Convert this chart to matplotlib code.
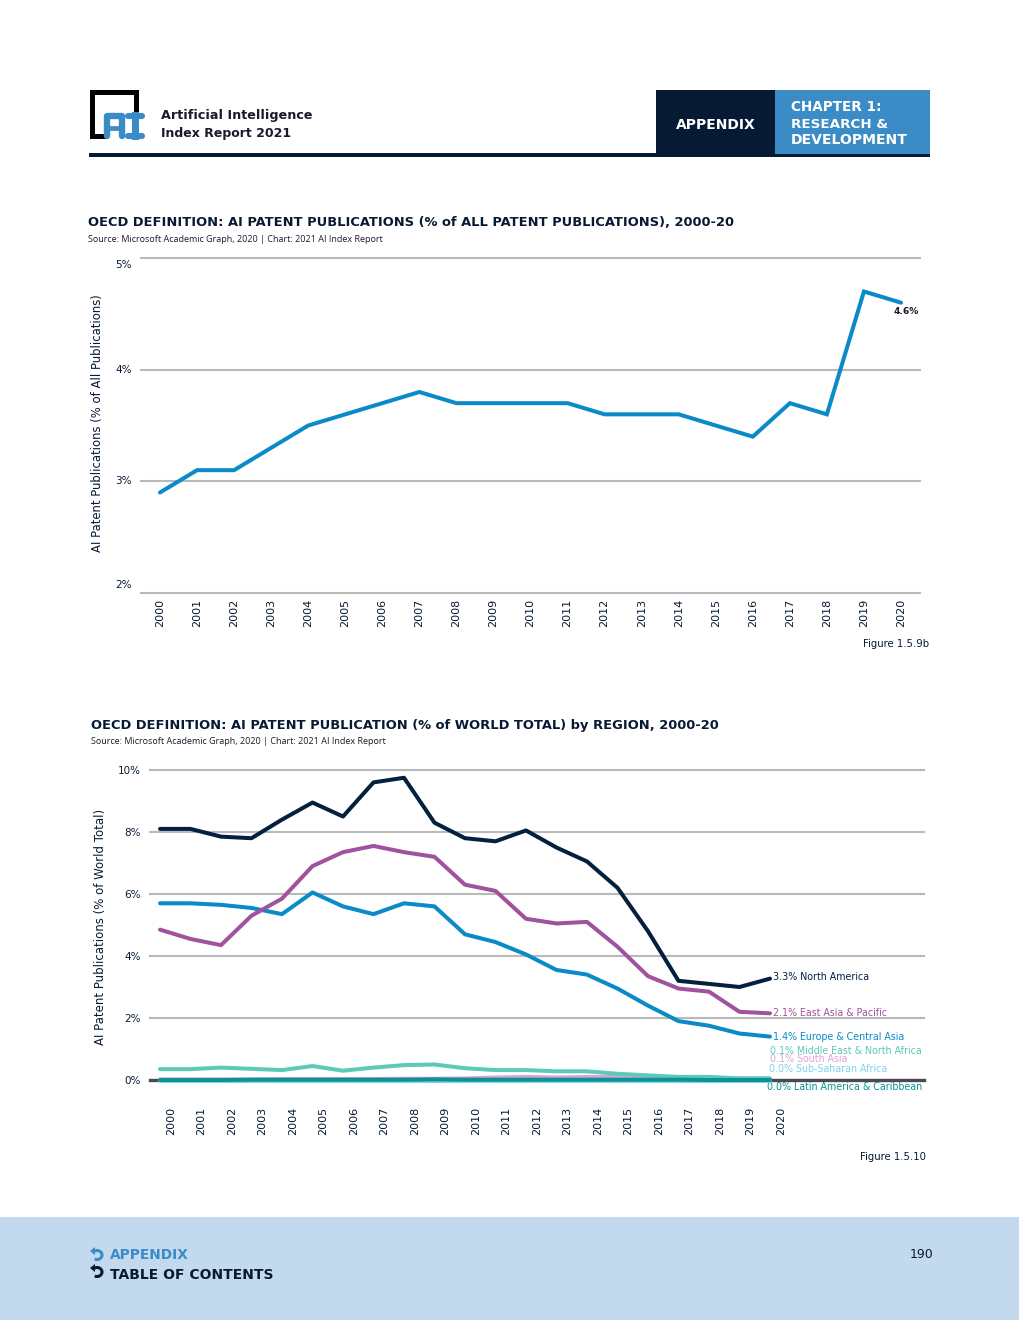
import matplotlib
matplotlib.use('Agg')
import matplotlib.pyplot as plt
from matplotlib.patches import Rectangle, Arc
from matplotlib.transforms import ScaledTranslation

W, H = 1020, 1320

# data
years = [str(y) for y in range(2000, 2021)]
idx = list(range(21))

patent_share = [2.9, 3.1, 3.1, 3.3, 3.5, 3.6, 3.7, 3.8, 3.7, 3.7, 3.7, 3.7, 3.6, 3.6, 3.6, 3.5, 3.4, 3.7, 3.6, 4.7, 4.6]
ticks_top = [2, 3, 4, 5]
ticks_bottom = [0, 2, 4, 6, 8, 10]

north_america = [8.1, 8.1, 7.85, 7.8, 8.4, 8.95, 8.5, 9.6, 9.75, 8.3, 7.8, 7.7, 8.05, 7.5, 7.05, 6.2, 4.8, 3.2, 3.1, 3.0, 3.27]
east_asia = [4.85, 4.55, 4.35, 5.3, 5.85, 6.9, 7.35, 7.55, 7.35, 7.2, 6.3, 6.1, 5.2, 5.05, 5.1, 4.3, 3.35, 2.95, 2.85, 2.2, 2.15]
europe = [5.7, 5.7, 5.65, 5.55, 5.35, 6.05, 5.6, 5.35, 5.7, 5.6, 4.7, 4.45, 4.05, 3.55, 3.4, 2.95, 2.4, 1.9, 1.75, 1.5, 1.4]
middle_east = [0.35, 0.35, 0.4, 0.36, 0.32, 0.45, 0.3, 0.4, 0.48, 0.5, 0.38, 0.32, 0.32, 0.28, 0.28, 0.2, 0.15, 0.1, 0.1, 0.05, 0.05]
south_asia = [0.02, 0.02, 0.02, 0.02, 0.03, 0.03, 0.03, 0.03, 0.04, 0.04, 0.05, 0.08, 0.1, 0.08, 0.1, 0.1, 0.08, 0.06, 0.05, 0.05, 0.05]
sub_saharan = [-0.03, -0.03, -0.03, -0.03, -0.03, -0.03, -0.03, -0.03, -0.03, -0.03, -0.03, -0.03, -0.03, -0.03, -0.03, -0.03, -0.03, -0.03, -0.03, -0.03, -0.03]
latin_america = [0.0, 0.0, 0.0, 0.01, 0.01, 0.01, 0.01, 0.01, 0.01, 0.02, 0.01, 0.01, 0.01, 0.01, 0.01, 0.01, 0.01, 0.01, 0.0, 0.0, 0.0]

region_labels = ['3.3% North America', '2.1% East Asia & Pacific', '1.4% Europe & Central Asia',
                 '0.1% Middle East & North Africa', '0.1% South Asia', '0.0% Sub-Saharan Africa',
                 '0.0% Latin America & Caribbean']
region_colors = ['#03203f', '#a0529f', '#0a8bc8', '#5dc9b8', '#dda3d3', '#7fd3e8', '#0a9396']

NAVY = '#071a33'
BLUE = '#3b8bc7'
GRID = '#b9b9b9'
WIDE = 'DejaVu Sans'

fig = plt.figure(figsize=(W / 100, H / 100), dpi=100, facecolor='white')


def px_axes(left, top, right, bottom):
    return fig.add_axes([left / W, 1 - bottom / H, (right - left) / W, (bottom - top) / H])


# page furniture, in pixels
page = fig.add_axes([0, 0, 1, 1], zorder=0)
page.set_xlim(0, W)
page.set_ylim(H, 0)
page.axis('off')

page.add_patch(Rectangle((0, 1217), W, 103, color='#c3daee', lw=0))
page.add_patch(Rectangle((89, 153), 841, 4, color=NAVY, lw=0))
page.add_patch(Rectangle((656, 90), 119, 64, color=NAVY, lw=0))
page.add_patch(Rectangle((775, 90), 155, 64, color=BLUE, lw=0))

# logo
page.plot([136, 136, 92, 92, 103], [110, 92, 92, 135.5, 135.5], color='black', lw=3.6, solid_joinstyle='miter')
page.plot([107, 107, 122, 122], [136, 116, 116, 136], color=BLUE, lw=4.6, solid_capstyle='round', solid_joinstyle='round')
page.plot([107, 122], [128, 128], color=BLUE, lw=3.4)
page.plot([128.5, 142.5], [115.5, 115.5], color=BLUE, lw=4.4, solid_capstyle='round')
page.plot([128.5, 142.5], [136, 136], color=BLUE, lw=4.4, solid_capstyle='round')
page.plot([135.5, 135.5], [115, 136], color=BLUE, lw=5)

page.text(161, 115.5, 'Artificial Intelligence', fontsize=9.15, fontweight='bold', family=WIDE, color='#1a1a2a', va='center')
page.text(161, 133.5, 'Index Report 2021', fontsize=9, fontweight='bold', family=WIDE, color='#1a1a2a', va='center')
page.text(716, 125, 'APPENDIX', fontsize=10, fontweight='bold', family=WIDE, color='white', va='center', ha='center')
page.text(791, 107, 'CHAPTER 1:', fontsize=9.8, fontweight='bold', family=WIDE, color='white', va='center')
page.text(791, 124, 'RESEARCH &', fontsize=9.7, fontweight='bold', family=WIDE, color='white', va='center')
page.text(791, 140, 'DEVELOPMENT', fontsize=10.1, fontweight='bold', family=WIDE, color='white', va='center')

page.text(88, 223, 'OECD DEFINITION: AI PATENT PUBLICATIONS (% of ALL PATENT PUBLICATIONS), 2000-20',
          fontsize=9.36, fontweight='bold', family=WIDE, color=NAVY, va='center')
page.text(88, 239, 'Source: Microsoft Academic Graph, 2020 | Chart: 2021 AI Index Report',
          fontsize=6.47, family='Open Sans', color='#1a1a2a', va='center')
page.text(91, 726, 'OECD DEFINITION: AI PATENT PUBLICATION (% of WORLD TOTAL) by REGION, 2000-20',
          fontsize=9.35, fontweight='bold', family=WIDE, color=NAVY, va='center')
page.text(91, 742, 'Source: Microsoft Academic Graph, 2020 | Chart: 2021 AI Index Report',
          fontsize=6.47, family='Open Sans', color='#1a1a2a', va='center')

page.text(929, 644, 'Figure 1.5.9b', fontsize=7.3, family=WIDE, color=NAVY, va='center', ha='right')
page.text(926, 1157, 'Figure 1.5.10', fontsize=7.3, family=WIDE, color=NAVY, va='center', ha='right')

# footer
page.text(110, 1255, 'APPENDIX', fontsize=9.9, fontweight='bold', family=WIDE, color=BLUE, va='center')
page.text(110, 1275, 'TABLE OF CONTENTS', fontsize=10, fontweight='bold', family=WIDE, color=NAVY, va='center')
page.text(933, 1255, '190', fontsize=9, family=WIDE, color=NAVY, va='center', ha='right')
for y0, c in [(1254, BLUE), (1271, NAVY)]:
    page.add_patch(Arc((97, y0 + 1), 10, 9, theta1=-140, theta2=120, color=c, lw=2.2))
    page.fill([90, 95, 95], [y0 - 3, y0 - 7, y0 + 1], color=c, lw=0)

# top chart
ax1 = px_axes(141, 258, 920, 593)
ax1.set_xlim(-0.513, 20.513)
ax1.set_ylim(2, 5)
ax1.patch.set_alpha(0)
for s in ax1.spines.values():
    s.set_visible(False)
ax1.set_yticks(ticks_top)
ax1.set_yticklabels([])
ax1.grid(axis='y', color=GRID, lw=1.5, clip_on=False)
ax1.set_axisbelow(True)
ax1.set_xticks(idx)
ax1.set_xticklabels(years, rotation=90, fontsize=8, family=WIDE, color=NAVY)
ax1.tick_params(length=0)
ax1.tick_params(axis='x', pad=4)
ax1.plot(idx, patent_share, color='#0a8bc8', lw=2.9, solid_joinstyle='miter', solid_capstyle='round')
# the outer y labels sit inside the band in the original
for v, dy in zip(ticks_top, [8, 0, 0, -7]):
    ax1.annotate(f'{v}%', xy=(0, v), xycoords=('axes fraction', 'data'), xytext=(-9 * 0.72, dy * 0.72),
                 textcoords='offset points', ha='right', va='center', fontsize=7.5, family=WIDE, color=NAVY)
ax1.annotate('4.6%', xy=(20, patent_share[-1]), xytext=(3.8, -6.5), textcoords='offset points', ha='center',
             va='center', fontsize=6.6, fontweight='bold', family=WIDE, color='#1a1a2a')
ax1.set_ylabel('AI Patent Publications (% of All Publications)', fontsize=8.35, family=WIDE, color=NAVY)
ax1.yaxis.set_label_coords(-37 / 779, (593 - 423) / 335)

# bottom chart
ax2 = px_axes(150, 770, 924, 1080)
ax2.set_xlim(-0.328, 25.05)
ax2.set_ylim(0, 10)
ax2.patch.set_alpha(0)
for s in ax2.spines.values():
    s.set_visible(False)
ax2.set_yticks(ticks_bottom)
ax2.set_yticklabels([f'{v}%' for v in ticks_bottom], fontsize=7.5, family=WIDE, color=NAVY)
ax2.grid(axis='y', color=GRID, lw=1.5, clip_on=False)
ax2.set_axisbelow(True)
ax2.axhline(0, color='#4a4a50', lw=2.4, clip_on=False, zorder=1)
ax2.set_xticks(idx)
ax2.set_xticklabels(years, rotation=90, fontsize=8, family=WIDE, color=NAVY)
ax2.tick_params(length=0)
ax2.tick_params(axis='y', pad=6.5)
ax2.tick_params(axis='x', pad=19)
# year labels are shifted right of the line points in the original
shift = ScaledTranslation(11 / 100, 0, fig.dpi_scale_trans)
for lab in ax2.get_xticklabels():
    lab.set_transform(lab.get_transform() + shift)

series = [sub_saharan, south_asia, middle_east, europe, east_asia, north_america, latin_america]
colors = [region_colors[5], region_colors[4], region_colors[3], region_colors[2], region_colors[1], region_colors[0], region_colors[6]]
for vals, c in zip(series, colors):
    ax2.plot(idx, vals, color=c, lw=2.9, solid_capstyle='round', clip_on=False, zorder=3)
ax2.set_ylabel('AI Patent Publications (% of World Total)', fontsize=8.5, family=WIDE, color=NAVY)
ax2.yaxis.set_label_coords(-43 / 774, (1080 - 927) / 310)

label_x = [773, 773, 773, 770, 770, 769, 767]
label_y = [977.5, 1012.5, 1036.5, 1050.5, 1058.5, 1068.5, 1086.5]
for t, c, lx, ly in zip(region_labels, region_colors, label_x, label_y):
    page.text(lx, ly, t, fontsize=6.85, family=WIDE, color=c, va='center', zorder=5)

fig.savefig('out.png', dpi=100)
